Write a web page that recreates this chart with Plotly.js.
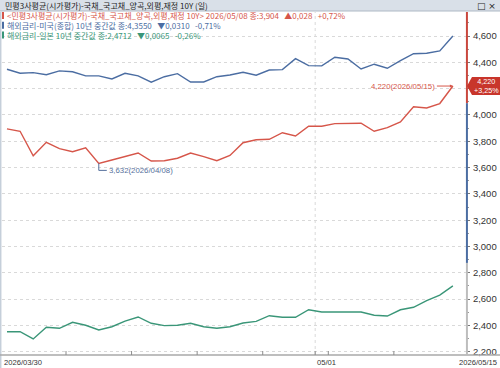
<!DOCTYPE html>
<html>
<head>
<meta charset="utf-8">
<script src="https://cdn.plot.ly/plotly-3.0.1.min.js"></script>
<style>
  html, body { margin: 0; padding: 0; background: #ffffff; }
  #chart { width: 500px; height: 368px; }
</style>
</head>
<body>
<div id="chart"></div>
<script>
// Trading days (weekdays only)
const dates = [
  '2026/03/30','2026/03/31','2026/04/01','2026/04/02','2026/04/03',
  '2026/04/06','2026/04/07','2026/04/08','2026/04/09','2026/04/10',
  '2026/04/13','2026/04/14','2026/04/15','2026/04/16','2026/04/17',
  '2026/04/20','2026/04/21','2026/04/22','2026/04/23','2026/04/24',
  '2026/04/27','2026/04/28','2026/04/29','2026/04/30','2026/05/01',
  '2026/05/04','2026/05/05','2026/05/06','2026/05/07','2026/05/08',
  '2026/05/11','2026/05/12','2026/05/13','2026/05/14','2026/05/15'
];

// 민평3사평균 국고채 10Y
const krBond10y = [
  3.894, 3.876, 3.690, 3.792, 3.744, 3.721, 3.751, 3.632, 3.658, 3.686,
  3.711, 3.650, 3.652, 3.671, 3.711, 3.683, 3.652, 3.692, 3.789, 3.812,
  3.815, 3.865, 3.840, 3.914, 3.914, 3.934, 3.934, 3.937, 3.876, 3.904,
  3.947, 4.063, 4.053, 4.087, 4.220
];

// 해외금리 - 미국 10년
const us10y = [
  4.3480, 4.3170, 4.3220, 4.3060, 4.3350, 4.3290, 4.2970, 4.2970, 4.2740, 4.3170,
  4.2970, 4.2490, 4.2910, 4.3140, 4.2510, 4.2510, 4.2910, 4.3040, 4.3250, 4.3020,
  4.3420, 4.3450, 4.4280, 4.3750, 4.3730, 4.4390, 4.4260, 4.3500, 4.3860, 4.3550,
  4.4130, 4.4660, 4.4690, 4.4870, 4.6010
];

// 해외금리 - 일본 10년
const jp10y = [
  2.3520, 2.3520, 2.2970, 2.3860, 2.3780, 2.4240, 2.4010, 2.3650, 2.3900, 2.4330,
  2.4640, 2.4160, 2.3980, 2.4010, 2.4160, 2.3900, 2.3780, 2.3900, 2.4180, 2.4310,
  2.4740, 2.4620, 2.4620, 2.5190, 2.5020, 2.5020, 2.5020, 2.5020, 2.4777, 2.4712,
  2.5190, 2.5380, 2.5880, 2.6310, 2.7000
];

const yTickVals = [2.2, 2.4, 2.6, 2.8, 3.0, 3.2, 3.4, 3.6, 3.8, 4.0, 4.2, 4.4, 4.6];

const chartTitle = '민평3사평균(시가평가)-국채_국고채_양곡,외평,재정 10Y (일)';
const krName = '<민평3사평균(시가평가)-국채_국고채_양곡,외평,재정 10Y>';
const usName = '해외금리-미국(종합) 10년 중간값';
const jpName = '해외금리-일본 10년 중간값';

const RED = '#d6564a';
const BLUE = '#4b6da2';
const GREEN = '#3a9678';

// layout geometry
const W = 500, H = 368;
const M = { l: 2, r: 34, t: 12, b: 13 };
const plotH = H - M.t - M.b;
const plotW = W - M.l - M.r;
const yRange = [2.175, 4.783];
const xRange = [-0.38, 35.0];

// pixel row/column -> paper fraction
const pyPaper = (py) => 1 - (py - M.t) / plotH;
const pxPaper = (px) => (px - M.l) / plotW;

// decimal comma formatting
const fmt = (v, d) => v.toFixed(d).replace('.', ',');

// quote line values at the crosshair date
const qi = dates.indexOf('2026/05/08');
function quote(series, d) {
  const v = series[qi], p = series[qi - 1];
  const ch = v - p, pct = ch / p * 100;
  const arrow = ch >= 0 ? '▲' : '▼';
  const sign = ch >= 0 ? '+' : '-';
  return '종:' + fmt(v, d) + '&nbsp;&nbsp;&nbsp;' + arrow + fmt(Math.abs(ch), d) +
         '&nbsp;&nbsp;&nbsp;' + sign + fmt(Math.abs(pct), 2) + '%';
}

// extremes of the 10Y KTB line
let minI = 0, maxI = 0;
krBond10y.forEach((v, i) => {
  if (v < krBond10y[minI]) minI = i;
  if (v > krBond10y[maxI]) maxI = i;
});
const lastI = krBond10y.length - 1;
const lastV = krBond10y[lastI];
const lastPct = (lastV - krBond10y[lastI - 1]) / krBond10y[lastI - 1] * 100;

// tick labels; the one under the last-value flag is left blank
const yTickText = yTickVals.map(v => Math.abs(v - lastV) < 0.07 ? '' : fmt(v, 3));

const lineTrace = (y, color) => ({
  x: dates, y: y, type: 'scatter', mode: 'lines',
  line: { color: color, width: 1.4 },
  hoverinfo: 'skip', showlegend: false
});

const traces = [
  lineTrace(jp10y, GREEN),
  lineTrace(us10y, BLUE),
  lineTrace(krBond10y, RED)
];

const KFONT = 'Noto Sans CJK KR, Noto Sans, sans-serif';
const NFONT = 'Liberation Sans, Arial, sans-serif';

const shapes = [];
const annotations = [];

// header bar
shapes.push({
  type: 'rect', xref: 'paper', yref: 'paper', layer: 'above',
  x0: pxPaper(0), x1: pxPaper(W), y0: pyPaper(M.t - 1), y1: pyPaper(0),
  fillcolor: '#d9e0e8', line: { width: 0 }
});
shapes.push({
  type: 'line', xref: 'paper', yref: 'paper', layer: 'above',
  x0: pxPaper(0), x1: pxPaper(W), y0: pyPaper(M.t - 1), y1: pyPaper(M.t - 1),
  line: { color: '#aeb9c5', width: 1 }
});
// left frame strip
shapes.push({
  type: 'line', xref: 'paper', yref: 'paper', layer: 'above',
  x0: pxPaper(0.7), x1: pxPaper(0.7), y0: pyPaper(H), y1: pyPaper(M.t),
  line: { color: '#c5cfda', width: 1.5 }
});
// bottom axis line across the frame
shapes.push({
  type: 'line', xref: 'paper', yref: 'paper', layer: 'above',
  x0: pxPaper(0), x1: pxPaper(W), y0: 0, y1: 0,
  line: { color: '#a9a9a9', width: 1.6 }
});

// month boundary grid line
shapes.push({
  type: 'line', xref: 'x', yref: 'paper', layer: 'below',
  x0: 23.5, x1: 23.5, y0: 0, y1: 1,
  line: { color: '#d9d9d9', width: 1, dash: 'dot' }
});

// week boundary ticks on the time axis
[4.5, 9.5, 14.5, 19.5, 23.5, 24.5, 29.5].forEach(b => {
  shapes.push({
    type: 'line', xref: 'x', yref: 'paper', layer: 'above',
    x0: b, x1: b, y0: 0, y1: 4 / plotH,
    line: { color: '#8c8c8c', width: 1 }
  });
});

// right value-axis spine in segments
const spine = [
  { from: 4.09, to: yRange[1], color: '#c9473d' },
  { from: 2.875, to: 4.09, color: '#4b6da2' },
  { from: yRange[0], to: 2.875, color: '#bdbdbd' }
];
spine.forEach(s => {
  shapes.push({
    type: 'line', xref: 'paper', yref: 'y', layer: 'above',
    x0: 1.002, x1: 1.002, y0: s.from, y1: s.to,
    line: { color: s.color, width: 2 }
  });
});

// legend colour markers and quote lines
const legendRows = [
  { color: RED, text: krName + ' ' + dates[qi] + ' ' + quote(krBond10y, 3), py: 15.5 },
  { color: BLUE, text: usName + ' ' + quote(us10y, 4), py: 25.3 },
  { color: GREEN, text: jpName + ' ' + quote(jp10y, 4), py: 35.0 }
];
legendRows.forEach(r => {
  shapes.push({
    type: 'rect', xref: 'paper', yref: 'paper', layer: 'above',
    x0: pxPaper(2), x1: pxPaper(4), y0: pyPaper(r.py + 3.5), y1: pyPaper(r.py - 3.5),
    fillcolor: r.color, line: { width: 0 }
  });
  annotations.push({
    xref: 'paper', yref: 'paper', x: pxPaper(5), y: pyPaper(r.py),
    xanchor: 'left', yanchor: 'middle', showarrow: false,
    text: r.text, font: { family: KFONT, size: 8, color: r.color }
  });
});

// header title + window buttons
annotations.push({
  xref: 'paper', yref: 'paper', x: pxPaper(3), y: pyPaper(5.5),
  xanchor: 'left', yanchor: 'middle', showarrow: false,
  text: chartTitle, font: { family: KFONT, size: 8, color: '#1e1e1e' }
});
annotations.push({
  xref: 'paper', yref: 'paper', x: pxPaper(498), y: pyPaper(5.5),
  xanchor: 'right', yanchor: 'middle', showarrow: false,
  text: '□ ×', font: { family: 'DejaVu Sans, sans-serif', size: 9, color: '#1e1e1e' }
});

// time-axis labels
const short = (d) => d.slice(5);
const XLBL = { family: NFONT, size: 7.6, color: '#333333' };
annotations.push({
  xref: 'paper', yref: 'paper', x: 0, y: 0, yshift: -7,
  xanchor: 'left', yanchor: 'middle', showarrow: false,
  text: dates[0], font: XLBL
});
annotations.push({
  xref: 'x', yref: 'paper', x: 23.5, y: 0, yshift: -7,
  xanchor: 'left', yanchor: 'middle', showarrow: false,
  text: short(dates[24]), font: XLBL
});
annotations.push({
  xref: 'paper', yref: 'paper', x: pxPaper(499), y: 0, yshift: -7,
  xanchor: 'right', yanchor: 'middle', showarrow: false,
  text: dates[lastI], font: XLBL
});

// minimum marker: elbow leader + label
const MINC = '#56709c';
shapes.push({
  type: 'path', xref: 'x', yref: 'y', layer: 'above',
  xsizemode: 'pixel', ysizemode: 'pixel',
  xanchor: minI, yanchor: krBond10y[minI],
  path: 'M0,0 L0,-7 L8,-7',
  line: { color: MINC, width: 1 }
});
annotations.push({
  xref: 'x', yref: 'y', x: minI, y: krBond10y[minI],
  xshift: 8, yshift: -7, xanchor: 'left', yanchor: 'middle', showarrow: false,
  text: fmt(krBond10y[minI], 3) + '(' + dates[minI] + ')',
  font: { family: NFONT, size: 7.8, color: MINC }
});

// maximum marker: label with arrow
annotations.push({
  xref: 'x', yref: 'y', x: maxI, y: krBond10y[maxI],
  ax: -16, ay: 0, xanchor: 'right', yanchor: 'middle',
  showarrow: true, arrowhead: 2, arrowsize: 0.6, arrowwidth: 1, arrowcolor: RED,
  standoff: 0, startstandoff: 0,
  text: fmt(krBond10y[maxI], 3) + '(' + dates[maxI] + ')',
  font: { family: NFONT, size: 7.8, color: RED }
});

// last-value flag on the value axis
shapes.push({
  type: 'path', xref: 'paper', yref: 'y', layer: 'above',
  xsizemode: 'pixel', ysizemode: 'pixel', xanchor: 1, yanchor: lastV,
  path: 'M1,0 L6,9 L34,9 L34,-9 L6,-9 Z',
  fillcolor: '#c8352b', line: { width: 0 }
});
annotations.push({
  xref: 'paper', yref: 'y', x: 1, y: lastV, xshift: 20, yshift: 0,
  xanchor: 'center', yanchor: 'middle', showarrow: false, borderpad: 0,
  text: fmt(lastV, 3) + '<br>' + (lastPct >= 0 ? '+' : '-') + fmt(Math.abs(lastPct), 2) + '%',
  font: { family: NFONT, size: 7.2, color: '#ffffff' }
});

const layout = {
  width: W, height: H,
  margin: M,
  paper_bgcolor: '#ffffff', plot_bgcolor: '#ffffff',
  showlegend: false,
  xaxis: {
    type: 'category', range: xRange, fixedrange: true,
    showgrid: false, zeroline: false, showline: false,
    showticklabels: false, ticks: ''
  },
  yaxis: {
    side: 'right', range: yRange, fixedrange: true,
    tickmode: 'array', tickvals: yTickVals, ticktext: yTickText,
    ticks: 'outside', ticklen: 3, tickwidth: 1, tickcolor: '#777777',
    minor: { dtick: 0.1, tick0: 2.2, ticks: 'outside', ticklen: 2, tickcolor: '#999999', showgrid: false },
    showgrid: true, gridcolor: '#d9d9d9', griddash: 'dot', gridwidth: 1,
    zeroline: false, showline: false,
    tickfont: { family: 'Liberation Sans, Arial, sans-serif', size: 9.5, color: '#333333' },
    ticklabelstandoff: 1
  },
  shapes: shapes,
  annotations: annotations
};

Plotly.newPlot('chart', traces, layout, { staticPlot: true, displayModeBar: false });
</script>
</body>
</html>
